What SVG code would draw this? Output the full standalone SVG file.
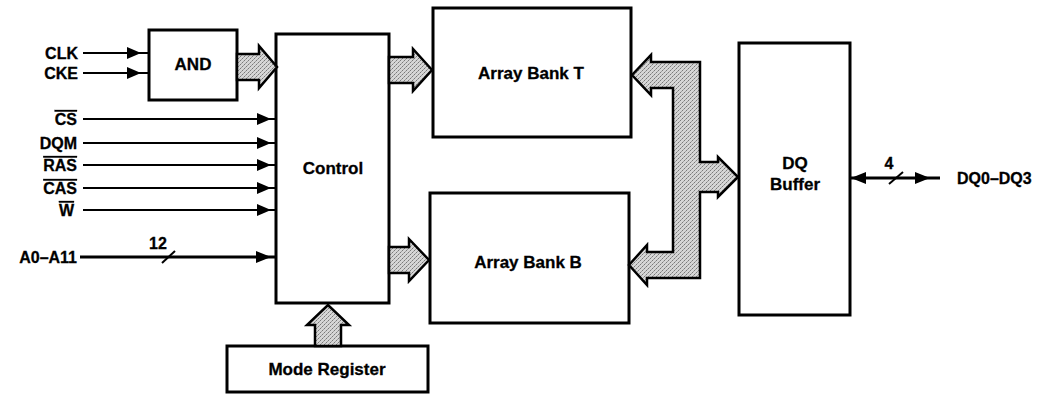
<svg xmlns="http://www.w3.org/2000/svg" width="1046" height="394" viewBox="0 0 1046 394">
<defs>
  <pattern id="stipple" width="4" height="4" patternUnits="userSpaceOnUse">
    <rect width="4" height="4" fill="#d6d6d6"/>
    <rect x="0" y="0" width="1" height="1" fill="#7a7a7a"/>
    <rect x="2" y="2" width="1" height="1" fill="#7a7a7a"/>
    <rect x="3" y="1" width="1" height="1" fill="#a0a0a0"/>
    <rect x="1" y="3" width="1" height="1" fill="#a0a0a0"/>
  </pattern>
</defs>
<style>
  .box { fill: #fff; stroke: #000; stroke-width: 3; }
  .lbl { font-family: "Liberation Sans", Arial, sans-serif; font-weight: bold; font-size: 16px; fill: #000; stroke: #000; stroke-width: 0.3; }
  .big { font-size: 17px; }
  .sig { stroke: #000; stroke-width: 2; fill: none; }
  .bus { stroke: #000; stroke-width: 3; fill: none; }
  .head { fill: #000; stroke: none; }
  .fat { fill: url(#stipple); stroke: #000; stroke-width: 2.5; stroke-linejoin: miter; }
  .ov { text-decoration: overline; }
</style>
<rect width="1046" height="394" fill="#fff"/>

<g id="inputs">
  <text class="lbl" x="78" y="59" text-anchor="end">CLK</text>
  <text class="lbl" x="78" y="79" text-anchor="end">CKE</text>
  <text class="lbl" x="77" y="125" text-anchor="end"><tspan class="ov">CS</tspan></text>
  <text class="lbl" x="77" y="149" text-anchor="end">DQM</text>
  <text class="lbl" x="77" y="171" text-anchor="end"><tspan class="ov">RAS</tspan></text>
  <text class="lbl" x="77" y="194" text-anchor="end"><tspan class="ov">CAS</tspan></text>
  <text class="lbl" x="74" y="216" text-anchor="end"><tspan class="ov">W</tspan></text>
  <text class="lbl" x="77" y="263" text-anchor="end">A0–A11</text>
</g>

<g id="and">
  <rect class="box" x="149" y="30" width="88" height="70"/>
  <text class="lbl big" x="193" y="70" text-anchor="middle">AND</text>
</g>

<g id="control">
  <rect class="box" x="276" y="34" width="113" height="269"/>
  <text class="lbl big" x="333" y="174" text-anchor="middle">Control</text>
</g>

<g id="bank-t">
  <rect class="box" x="433" y="8" width="198" height="129"/>
  <text class="lbl big" x="531" y="79" text-anchor="middle">Array Bank T</text>
</g>

<g id="bank-b">
  <rect class="box" x="430" y="193" width="199" height="130"/>
  <text class="lbl big" x="528" y="268" text-anchor="middle">Array Bank B</text>
</g>

<g id="dq-buffer">
  <rect class="box" x="739" y="43" width="111" height="272"/>
  <text class="lbl big" x="795" y="169" text-anchor="middle">DQ</text>
  <text class="lbl big" x="795" y="190" text-anchor="middle">Buffer</text>
</g>

<g id="mode-register">
  <rect class="box" x="227" y="346" width="201" height="46"/>
  <text class="lbl big" x="327" y="375" text-anchor="middle">Mode Register</text>
</g>

<g id="output-label">
  <text class="lbl" x="957" y="184">DQ0–DQ3</text>
</g>

<g id="connectors">
  <!-- CLK / CKE to AND -->
  <line class="sig" x1="83" y1="53" x2="149" y2="53"/>
  <polygon class="head" points="127,47 141,53 127,59"/>
  <line class="sig" x1="83" y1="73" x2="149" y2="73"/>
  <polygon class="head" points="127,67 141,73 127,79"/>
  <!-- control inputs -->
  <line class="sig" x1="83" y1="119" x2="276" y2="119"/>
  <polygon class="head" points="257,113 271,119 257,125"/>
  <line class="sig" x1="83" y1="143" x2="276" y2="143"/>
  <polygon class="head" points="257,137 271,143 257,149"/>
  <line class="sig" x1="83" y1="165" x2="276" y2="165"/>
  <polygon class="head" points="257,159 271,165 257,171"/>
  <line class="sig" x1="83" y1="188" x2="276" y2="188"/>
  <polygon class="head" points="257,182 271,188 257,194"/>
  <line class="sig" x1="83" y1="210" x2="276" y2="210"/>
  <polygon class="head" points="257,204 271,210 257,216"/>
  <!-- address bus -->
  <line class="bus" x1="80" y1="257" x2="276" y2="257"/>
  <polygon class="head" points="256,251 271,257 256,263"/>
  <line class="sig" x1="162" y1="263" x2="175" y2="251"/>
  <text class="lbl" x="158" y="249" text-anchor="middle">12</text>

  <!-- fat arrows -->
  <polygon class="fat" points="237,54 259,54 259,46 277,67 259,88 259,80 237,80"/>
  <polygon class="fat" points="389,57 413,57 413,49 432,70 413,91 413,83 389,83"/>
  <polygon class="fat" points="389,247 409,247 409,239 429,260 409,281 409,273 389,273"/>
  <polygon class="fat" points="315,346 315,325 307,325 328,305 349,325 341,325 341,346"/>

  <!-- bidirectional bus between banks and DQ buffer -->
  <polygon class="fat" points="632,75 651,55 651,62 700,62 700,162 718,162 718,157 738,177 718,197 718,192 700,192 700,278 647,278 647,285 629,265 647,245 647,252 673,252 673,88 651,88 651,95"/>

  <!-- DQ output -->
  <line class="bus" x1="850" y1="178" x2="940" y2="178"/>
  <polygon class="head" points="866,172 851,178 866,184"/>
  <polygon class="head" points="915,172 930,178 915,184"/>
  <line class="sig" x1="889" y1="184" x2="903" y2="172"/>
  <text class="lbl" x="889" y="169" text-anchor="middle">4</text>
</g>
</svg>
